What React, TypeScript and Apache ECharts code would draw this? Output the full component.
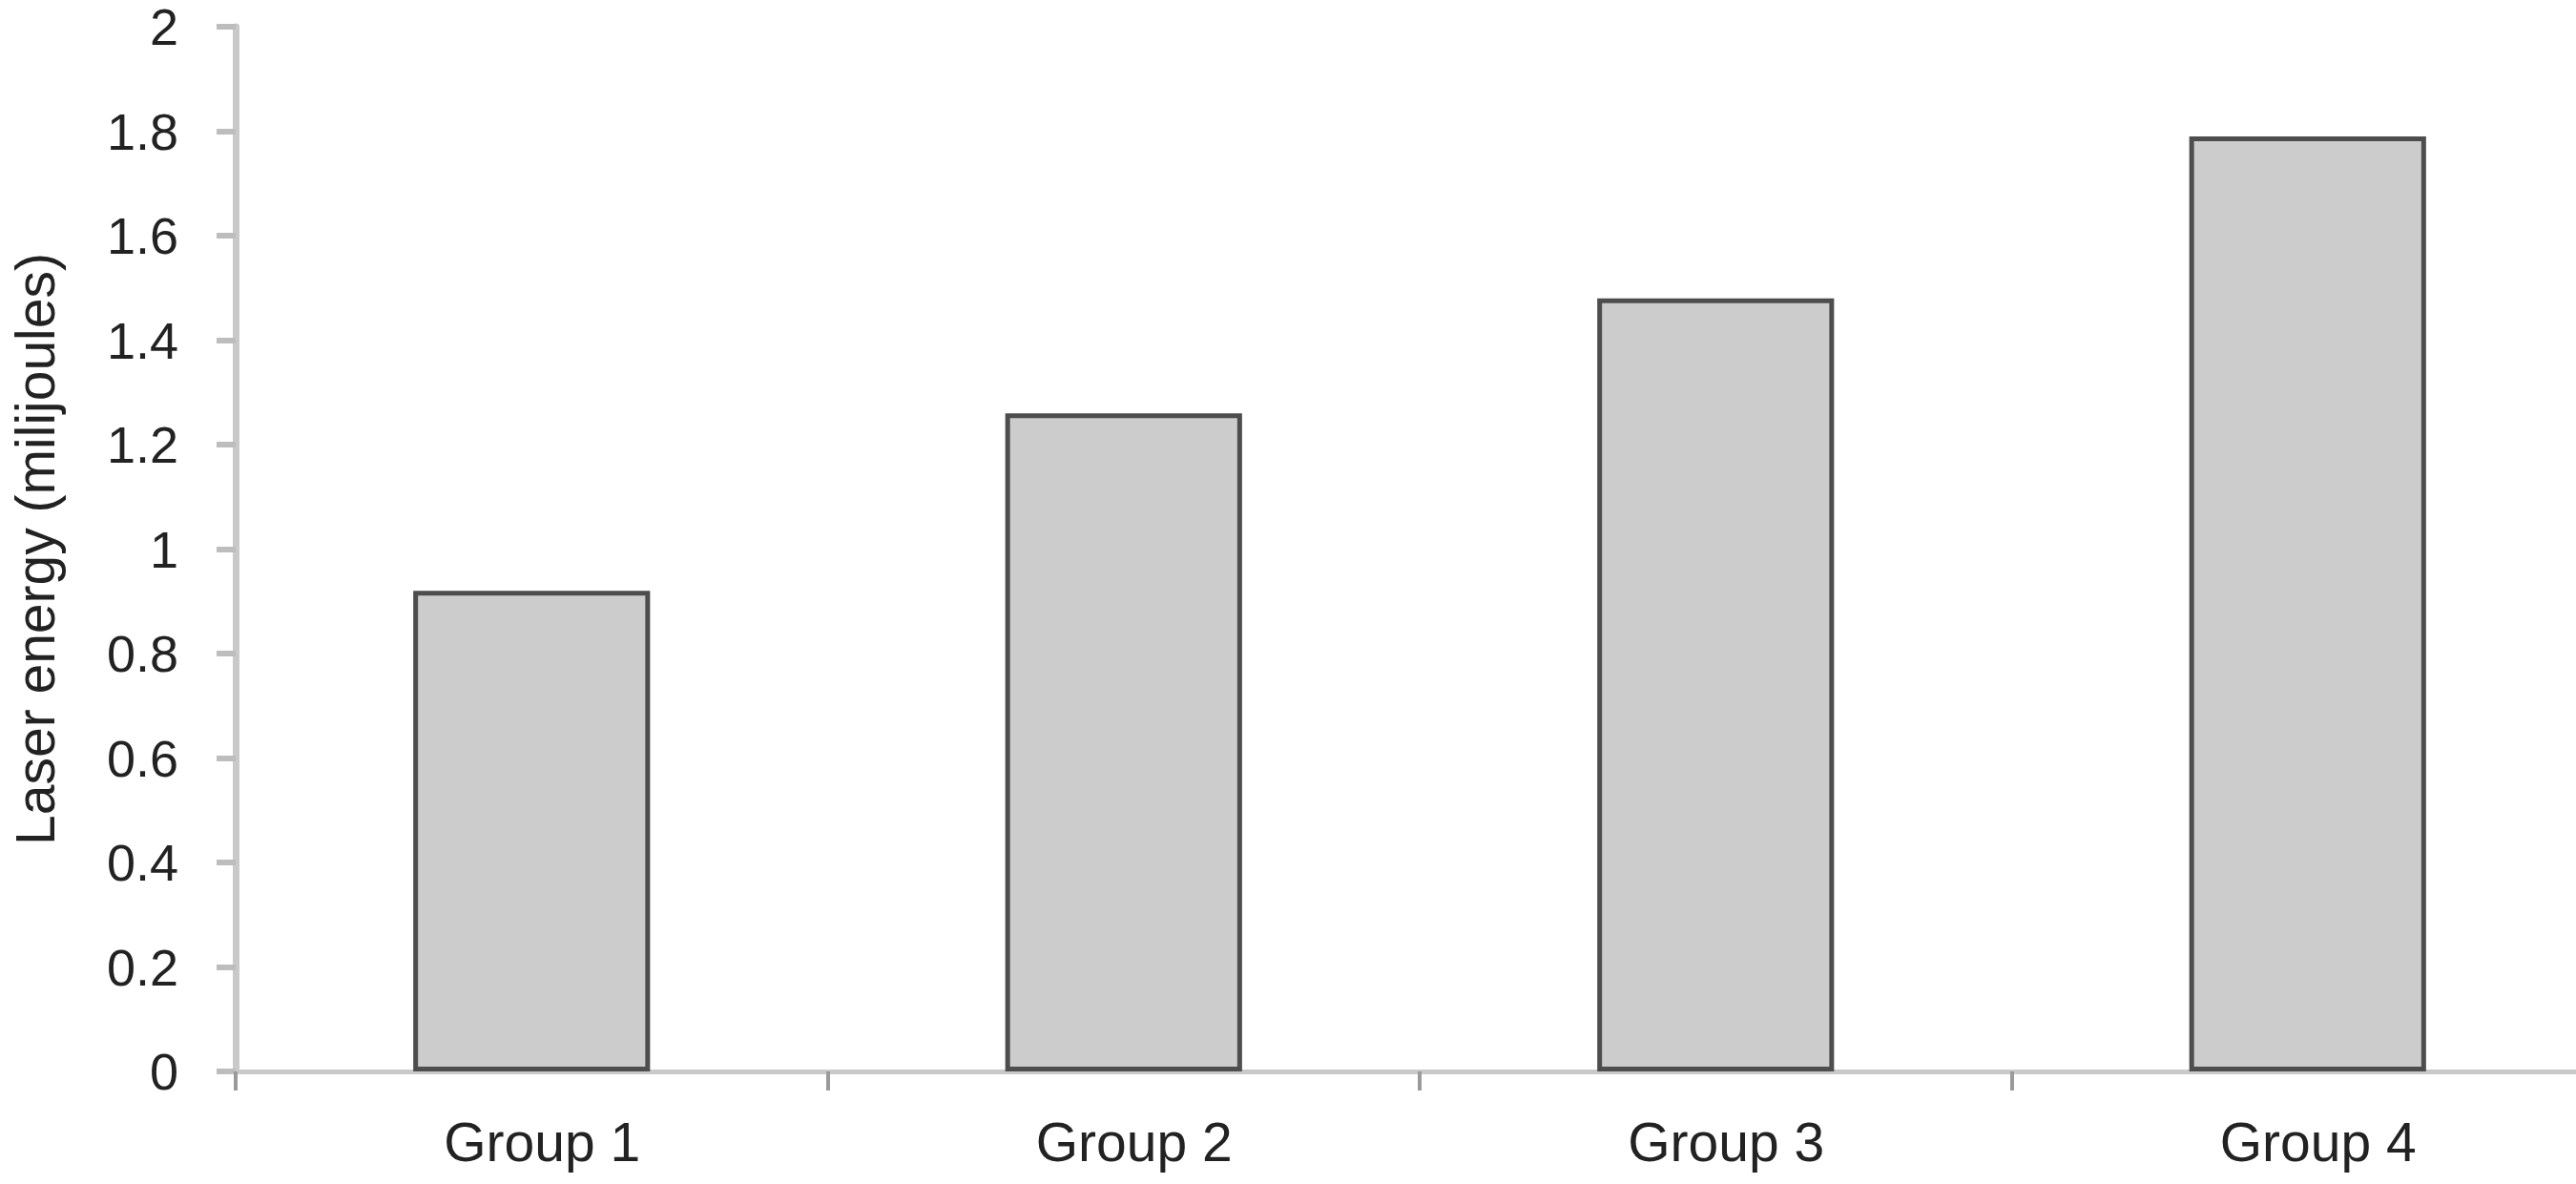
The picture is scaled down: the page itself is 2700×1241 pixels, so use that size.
import React, { useEffect, useRef } from "react";
import * as echarts from "echarts";

const categories = ["Group 1", "Group 2", "Group 3", "Group 4"];
const laserEnergy = [0.92, 1.26, 1.48, 1.79];
const yMin = 0;
const yMax = 2;
const yStep = 0.2;
const yAxisTitle = "Laser energy (milijoules)";

export default function App() {
  const ref = useRef<HTMLDivElement | null>(null);

  useEffect(() => {
    if (!ref.current) return;
    const chart = echarts.init(ref.current, null, { renderer: "svg" });
    const font = "'Liberation Sans', Arial, sans-serif";
    chart.setOption({
      animation: false,
      backgroundColor: "#ffffff",
      grid: { left: 240, top: 28, bottom: 118, right: 0, containLabel: false },
      xAxis: {
        type: "category",
        data: categories,
        boundaryGap: true,
        axisLine: { show: true, lineStyle: { color: "#c9c9c9", width: 5 } },
        axisTick: { show: true, length: 20, lineStyle: { color: "#9a9a9a", width: 4 } },
        axisLabel: {
          color: "#222222",
          fontSize: 57,
          fontFamily: font,
          margin: 45,
          padding: [0, 0, 0, 22],
        },
        splitLine: { show: false },
      },
      yAxis: {
        type: "value",
        min: yMin,
        max: yMax,
        interval: yStep,
        name: yAxisTitle,
        nameLocation: "middle",
        nameGap: 182,
        nameTextStyle: { color: "#222222", fontSize: 57, fontFamily: font },
        axisLine: { show: true, lineStyle: { color: "#c9c9c9", width: 7 } },
        axisTick: { show: true, length: 20, lineStyle: { color: "#bdbdbd", width: 6 } },
        axisLabel: { color: "#222222", fontSize: 54, lineHeight: 46, fontFamily: font, margin: 60 },
        splitLine: { show: false },
      },
      series: [
        {
          type: "bar",
          data: laserEnergy,
          barWidth: "40%",
          itemStyle: { color: "#cccccc", borderColor: "#4d4d4d", borderWidth: 5 },
        },
      ],
    });
    return () => chart.dispose();
  }, []);

  return (
    <div
      style={{
        position: "fixed",
        left: 0,
        top: 0,
        width: 2700,
        height: 1241,
        overflow: "hidden",
        background: "#fff",
      }}
    >
      <div ref={ref} style={{ width: 2729, height: 1241 }} />
    </div>
  );
}
